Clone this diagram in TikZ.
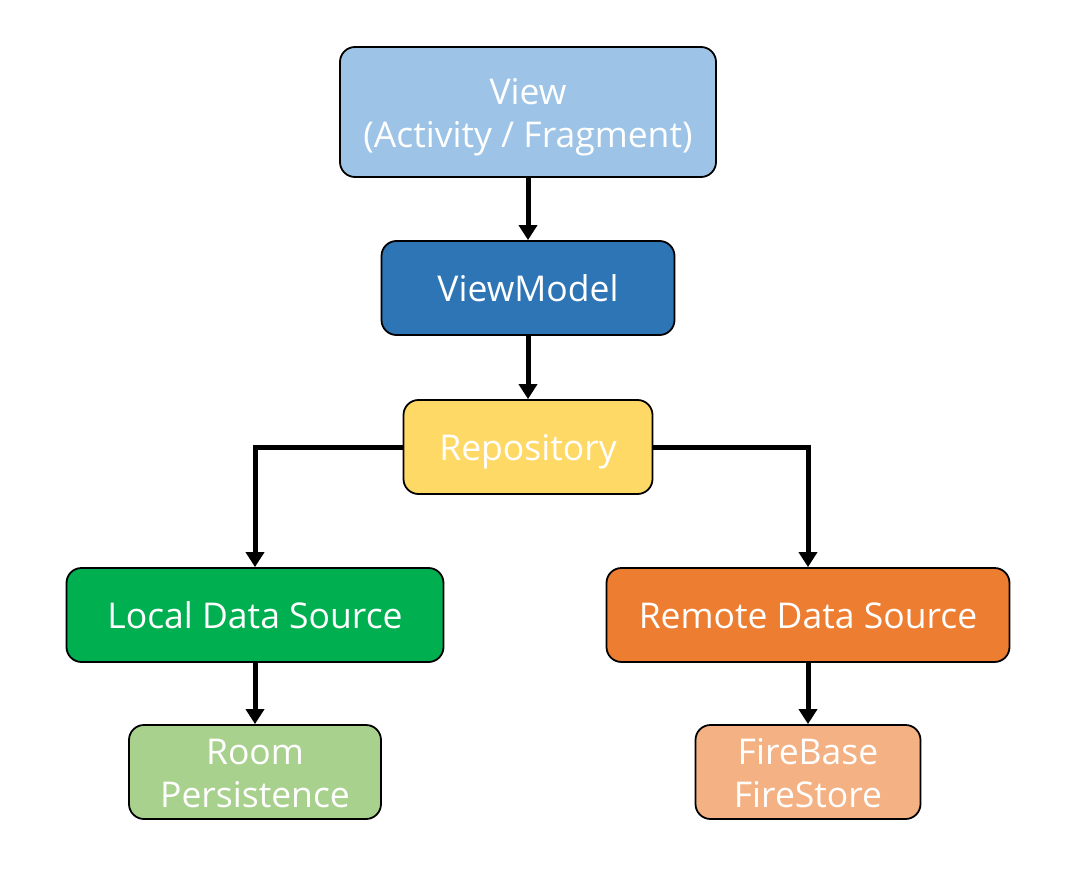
\documentclass[tikz,border=0pt]{standalone}
\usepackage{fontspec}
\setmainfont{Open Sans}
\usetikzlibrary{arrows.meta}
\definecolor{cview}{HTML}{9DC3E6}
\definecolor{cvm}{HTML}{2E75B6}
\definecolor{crepo}{HTML}{FFD966}
\definecolor{clocal}{HTML}{00B050}
\definecolor{cremote}{HTML}{ED7D31}
\definecolor{croom}{HTML}{A9D18E}
\definecolor{cfire}{HTML}{F4B183}
\newcommand{\boxtext}[1]{\raisebox{-5pt}[\height][\depth]{\begin{tabular}{@{}c@{}}#1\end{tabular}}}
\tikzset{
  box/.style={draw=black, line width=1.8pt, rounded corners=15pt, text=white,
    font=\fontsize{35.5}{43}\selectfont, inner sep=0pt, minimum height=94pt},
  conn/.style={line width=5pt, -{Triangle[width=18pt,length=15pt]}},
}
\begin{document}
\begin{tikzpicture}[x=1pt,y=-1pt]
\useasboundingbox (0,0) rectangle (1069,875);
\node[box, fill=cview, minimum width=376pt, minimum height=130pt] (view) at (528,112) {\boxtext{View\\(Activity / Fragment)}};
\node[box, fill=cvm, minimum width=293pt] (vm) at (528,288) {\boxtext{ViewModel}};
\node[box, fill=crepo, minimum width=249pt] (repo) at (528,447) {\boxtext{Repository}};
\node[box, fill=clocal, minimum width=377pt] (local) at (255,615) {\boxtext{Local Data Source}};
\node[box, fill=cremote, minimum width=403pt] (remote) at (808,615) {\boxtext{Remote Data Source}};
\node[box, fill=croom, minimum width=252pt] (room) at (255,772) {\boxtext{Room\\Persistence}};
\node[box, fill=cfire, minimum width=225pt] (fire) at (808,772) {\boxtext{FireBase\\FireStore}};
\draw[conn] (view.south) -- (vm.north);
\draw[conn] (vm.south) -- (repo.north);
\draw[conn] (repo.west) -| (local.north);
\draw[conn] (repo.east) -| (remote.north);
\draw[conn] (local.south) -- (room.north);
\draw[conn] (remote.south) -- (fire.north);
\end{tikzpicture}
\end{document}
